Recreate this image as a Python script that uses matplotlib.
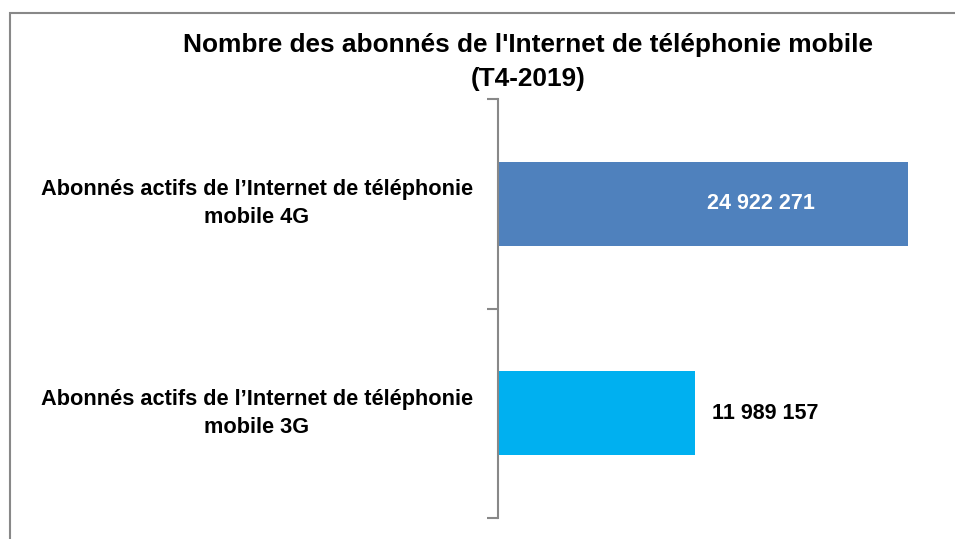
import matplotlib
matplotlib.use("Agg")
import matplotlib.pyplot as plt
from matplotlib.patches import Rectangle

categories = ["Abonnés actifs de l\u2019Internet de téléphonie\nmobile 3G",
              "Abonnés actifs de l\u2019Internet de téléphonie\nmobile 4G"]
values = [11989157, 24922271]
value_labels = ["11 989 157", "24 922 271"]
colors = ["#00B0F0", "#4F81BD"]
title = "Nombre des abonnés de l'Internet de téléphonie mobile\n(T4-2019)"

FONT = ["Liberation Sans Narrow", "Liberation Sans", "DejaVu Sans"]
W, H = 955, 539
fig = plt.figure(figsize=(W / 100, H / 100), dpi=100)

# outer border
fig.patches.append(Rectangle((10 / W, -0.1), 1.2, 1 - 13 / H + 0.1, transform=fig.transFigure,
                             fill=False, edgecolor="#888888", linewidth=1.5))

ax_left, ax_right, ax_top, ax_bot = 498, 940, 99, 518
ax = fig.add_axes([ax_left / W, 1 - ax_bot / H, (ax_right - ax_left) / W, (ax_bot - ax_top) / H])
xmax = values[1] * (ax_right - ax_left) / (908 - ax_left)
ax.barh(range(len(values)), values, height=0.4, color=colors)
ax.set_xlim(0, xmax)
ax.set_ylim(-0.5, 1.5)

for s in ["top", "right", "bottom"]:
    ax.spines[s].set_visible(False)
ax.spines["left"].set_color("#888888")
ax.spines["left"].set_linewidth(1.5)
ax.set_xticks([])
ax.set_yticks([-0.5, 0.5, 1.5])
ax.set_yticklabels([])
ax.tick_params(axis="y", length=8, width=1.5, color="#888888")

for i, lab in enumerate(categories):
    ax.text(-(498 - 257) / (908 - 498) * values[1], i, lab, ha="center", va="center",
            fontsize=15.7, fontweight="bold", family=FONT, linespacing=1.45)

# value labels
ax.text(values[0] + (712 - 695) / (908 - 498) * values[1], 0, value_labels[0], ha="left", va="center",
        fontsize=15.5, fontweight="bold", family=FONT, color="black")
ax.text(values[1] - (908 - 761) / (908 - 498) * values[1], 1, value_labels[1], ha="center", va="center",
        fontsize=15.5, fontweight="bold", family=FONT, color="white")

fig.text(528 / W, 1 - 62 / H, title, ha="center", va="center", fontsize=18.9, fontweight="bold",
         family=FONT, linespacing=1.55)

fig.savefig("out.png", dpi=100)
